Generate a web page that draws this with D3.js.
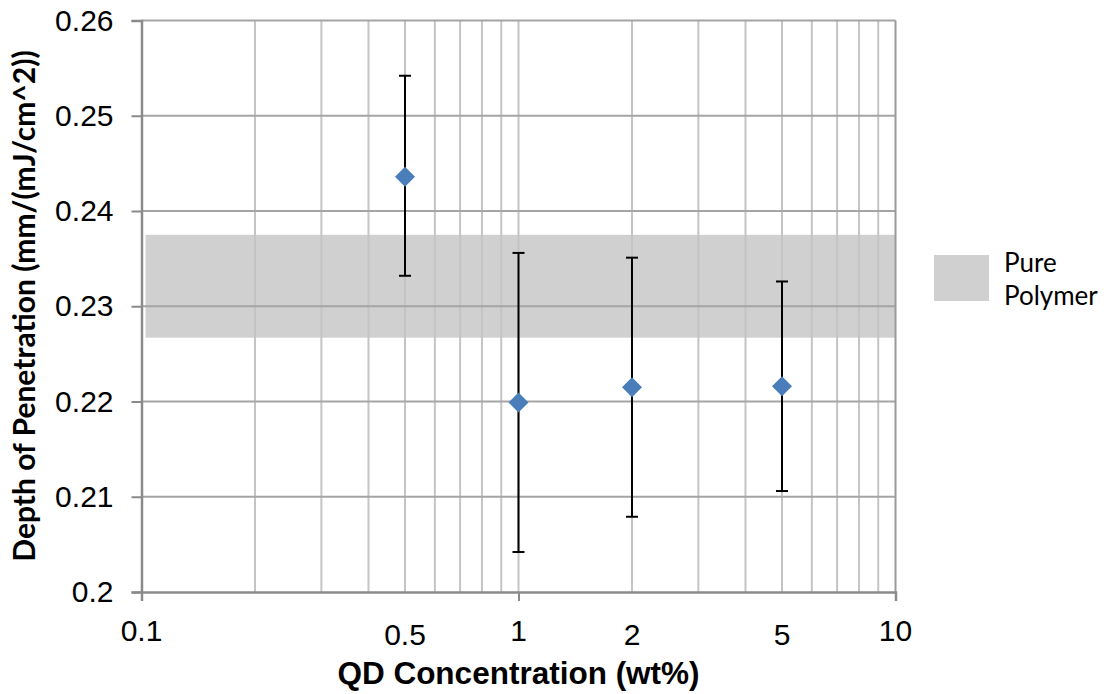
<!DOCTYPE html>
<html>
<head>
<meta charset="utf-8">
<script src="https://cdn.jsdelivr.net/npm/d3@7"></script>
<style>
  html, body { margin: 0; padding: 0; background: #fff; }
  svg { display: block; }
</style>
</head>
<body>
<svg id="chart" width="1107" height="694"></svg>
<script>
// Measured depth of penetration vs. quantum-dot loading
const concentrations = [0.5, 1, 2, 5];
const depthMean = [0.2436, 0.2199, 0.2215, 0.2216];
const depthHigh = [0.2542, 0.2356, 0.2351, 0.2326];
const depthLow  = [0.2332, 0.2042, 0.2079, 0.2106];

// Reference band for the unfilled resin
const pureBandX = [0.1025, 10];
const pureBandY = [0.2267, 0.2375];

const xTickLabels = [0.1, 0.5, 1, 2, 5, 10];
const yTicks = [0.2, 0.21, 0.22, 0.23, 0.24, 0.25, 0.26];

const svg = d3.select("#chart");
const m = { left: 141.5, top: 20.5, right: 211.5, bottom: 102 };
const W = 1107 - m.left - m.right;
const H = 694 - m.top - m.bottom;

const x = d3.scaleLog().domain([0.1, 10]).range([0, W]);
const y = d3.scaleLinear().domain([0.2, 0.26]).range([H, 0]);

const g = svg.append("g").attr("transform", `translate(${m.left},${m.top})`);

// shaded band
g.append("rect")
  .attr("x", x(pureBandX[0]))
  .attr("width", x(pureBandX[1]) - x(pureBandX[0]))
  .attr("y", y(pureBandY[1]))
  .attr("height", y(pureBandY[0]) - y(pureBandY[1]))
  .attr("fill", "#d0d0d0");

// vertical gridlines at every log step
const minorX = [];
[0.1, 1].forEach(d => { for (let k = 1; k <= 9; k++) minorX.push(d * k); });
minorX.push(10);
g.append("g")
  .selectAll("line")
  .data(minorX.filter(v => v > 0.1001 && v < 9.999))
  .join("line")
  .attr("x1", d => x(d)).attr("x2", d => x(d))
  .attr("y1", 0).attr("y2", H)
  .attr("stroke", "#c4c4c4")
  .attr("stroke-width", 2);

// horizontal gridlines
g.append("g")
  .selectAll("line")
  .data(yTicks.filter(v => v > 0.2001))
  .join("line")
  .attr("x1", 0).attr("x2", W)
  .attr("y1", d => y(d)).attr("y2", d => y(d))
  .attr("stroke", "#a5a5a5")
  .attr("stroke-width", 2);

// right border
g.append("line")
  .attr("x1", W).attr("x2", W).attr("y1", 0).attr("y2", H)
  .attr("stroke", "#9a9a9a").attr("stroke-width", 2);

// y axis
const yAxis = d3.axisLeft(y).tickValues(yTicks).tickSize(10).tickPadding(18)
  .tickFormat(d => d3.format("")(+d.toFixed(2)));
const ya = g.append("g").call(yAxis);
ya.select(".domain").attr("stroke", "#8a8a8a").attr("stroke-width", 2.5);
ya.selectAll(".tick line").attr("stroke", "#8a8a8a").attr("stroke-width", 2);
ya.selectAll("text")
  .attr("font-family", "'Liberation Sans', Arial, sans-serif")
  .attr("font-size", 30).attr("fill", "#000");

// x axis
const xAxis = d3.axisBottom(x).tickValues([0.1, 1, 10]).tickSize(9).tickFormat("");
const xa = g.append("g").attr("transform", `translate(0,${H})`).call(xAxis);
xa.select(".domain").attr("stroke", "#8a8a8a").attr("stroke-width", 2.5);
xa.selectAll(".tick line").attr("stroke", "#8a8a8a").attr("stroke-width", 2);

g.append("g")
  .selectAll("text")
  .data(xTickLabels)
  .join("text")
  .attr("x", d => x(d))
  .attr("y", d => H + ([0.5, 2, 5].includes(d) ? 53 : 49))
  .attr("text-anchor", "middle")
  .attr("font-family", "'Liberation Sans', Arial, sans-serif")
  .attr("font-size", 30)
  .attr("fill", "#000")
  .text(d => d);

// error bars
const pts = concentrations.map((c, i) => ({ c, v: depthMean[i], hi: depthHigh[i], lo: depthLow[i] }));
const eb = g.append("g").selectAll("g").data(pts).join("g");
eb.append("line")
  .attr("x1", d => x(d.c)).attr("x2", d => x(d.c))
  .attr("y1", d => y(d.hi)).attr("y2", d => y(d.lo))
  .attr("stroke", "#000").attr("stroke-width", 2);
["hi", "lo"].forEach(k => {
  eb.append("line")
    .attr("x1", d => x(d.c) - 6).attr("x2", d => x(d.c) + 6)
    .attr("y1", d => y(d[k])).attr("y2", d => y(d[k]))
    .attr("stroke", "#000").attr("stroke-width", 2);
});

// markers
g.append("g")
  .selectAll("path")
  .data(pts)
  .join("path")
  .attr("transform", d => `translate(${x(d.c)},${y(d.v)})`)
  .attr("d", "M0,-10L10,0L0,10L-10,0Z")
  .attr("fill", "#4a7ebb");

// axis titles
svg.append("text")
  .attr("x", m.left + x(1))
  .attr("y", 684)
  .attr("text-anchor", "middle")
  .attr("font-family", "'Liberation Sans', Arial, sans-serif")
  .attr("font-weight", "bold")
  .attr("font-size", 31.5)
  .attr("fill", "#000")
  .text("QD Concentration (wt%)");

svg.append("text")
  .attr("transform", "translate(35,306) rotate(-90)")
  .attr("text-anchor", "middle")
  .attr("font-family", "Lato, 'Open Sans', sans-serif")
  .attr("font-weight", "bold")
  .attr("font-size", 30)
  .attr("fill", "#000")
  .text("Depth of Penetration (mm/(mJ/cm^2))");

// legend
const lg = svg.append("g");
lg.append("rect")
  .attr("x", 934).attr("y", 255).attr("width", 55).attr("height", 46)
  .attr("fill", "#d0d0d0");
lg.append("text")
  .attr("x", 1004).attr("y", 272)
  .attr("font-family", "Lato, 'Open Sans', sans-serif")
  .attr("font-size", 26).attr("fill", "#000")
  .selectAll("tspan")
  .data(["Pure", "Polymer"])
  .join("tspan")
  .attr("x", 1004)
  .attr("dy", (d, i) => i === 0 ? 0 : 33)
  .text(d => d);
</script>
</body>
</html>
